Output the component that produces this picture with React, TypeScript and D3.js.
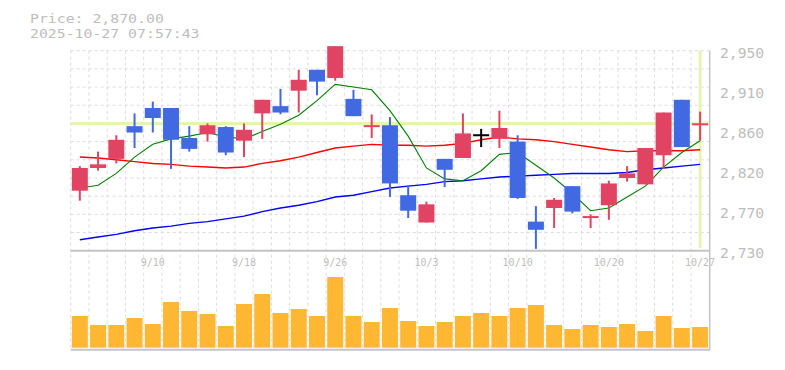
import React from "react";
import * as d3 from "d3";

const dates = ["9/4","9/5","9/8","9/9","9/10","9/11","9/12","9/16","9/17","9/18","9/19","9/22","9/24","9/25","9/26","9/29","9/30","10/1","10/2","10/3","10/6","10/7","10/8","10/9","10/10","10/14","10/15","10/16","10/17","10/20","10/21","10/22","10/23","10/24","10/27"];
const openP = [2796,2821,2831,2867,2887,2887,2854,2858,2866,2851,2881,2889,2906,2929,2920,2897,2866,2868,2791,2761,2831,2832,2857,2853,2850,2762,2777,2801,2766,2780,2810,2803,2835,2896,2868];
const highP = [2823,2839,2857,2881,2894,2887,2867,2870,2867,2870,2896,2908,2929,2929,2955,2907,2880,2877,2802,2784,2831,2881,2864,2884,2857,2779,2788,2801,2770,2807,2823,2843,2882,2896,2883];
const lowP = [2785,2818,2826,2843,2860,2820,2839,2850,2835,2833,2853,2880,2882,2901,2917,2878,2854,2789,2766,2761,2800,2832,2844,2843,2787,2732,2755,2771,2755,2764,2806,2803,2820,2844,2851];
const closeP = [2821,2825,2852,2860,2876,2852,2842,2868,2838,2863,2896,2882,2918,2916,2955,2878,2868,2804,2774,2781,2819,2859,2857,2865,2788,2753,2786,2773,2768,2804,2815,2843,2882,2844,2870];
const ma5 = [2799,2802,2815,2833,2847,2853,2856,2860,2855,2853,2861,2869,2879,2895,2913,2910,2907,2884,2856,2821,2809,2807,2818,2836,2838,2824,2810,2793,2774,2777,2789,2801,2822,2838,2851];
const ma25 = [2833,2832,2830,2828,2826,2825,2823,2822,2821,2822,2826,2829,2833,2838,2843,2845,2847,2846,2846,2845,2846,2848,2852,2855,2853,2852,2850,2847,2844,2841,2839,2840,2840,2840,2841];
const ma75 = [2742,2745,2748,2752,2755,2757,2760,2762,2765,2768,2773,2777,2780,2784,2789,2791,2795,2799,2801,2803,2806,2807,2809,2811,2812,2813,2814,2815,2815,2815,2816,2819,2821,2823,2825];
const volume = [317,227,227,297,237,457,367,337,217,437,537,347,387,317,707,317,257,397,267,217,257,317,347,317,397,427,227,187,227,207,237,167,317,197,207];
const xTickLabels = ["9/10","9/18","9/26","10/3","10/10","10/20","10/27"];
const yTickValues = [2730,2774,2818,2862,2906,2950];
const yTickLabels = ["2,730","2,770","2,820","2,860","2,910","2,950"];
const gridValues = [2730,2750,2770,2790,2810,2830,2850,2870,2890,2910,2930,2950];
const currentPrice = 2870;
const titleLines = ["Price: 2,870.00", "2025-10-27 07:57:43"];

const FONT = "'DejaVu Sans Mono', 'Liberation Mono', monospace";
const TEXT = "#bdbdbd";

export default function App() {
  const left = 70.7, right = 709.2;
  const pTop = 50.7, pBot = 250.7, vBot = 349.7;
  const x = d3.scaleBand<string>().domain(dates).range([left, right]).padding(0);
  const bw = x.bandwidth();
  const cx = (d: string) => (x(d) as number) + bw / 2;
  const y = d3.scaleLinear().domain([2730, 2950]).range([pBot, pTop]);
  const yv = d3.scaleLinear().domain([0, 1000]).range([347.7, 247.7]);
  const body = 16;

  const line = (vals: number[]) =>
    d3.line<number>().x((_, i) => cx(dates[i])).y((v) => y(v))(vals) || "";

  const bounds = d3.range(dates.length + 1).map((i) => left + i * bw);

  return (
    <svg width={785} height={370} style={{ position: "absolute", left: 0, top: 0, background: "#fff" }}>
      {gridValues.slice(1).map((g) => (
        <line key={"hg" + g} x1={left} x2={right} y1={y(g)} y2={y(g)} stroke="#dcdcdc" strokeDasharray="3,3" />
      ))}
      {bounds.slice(0, -1).map((b, i) => (
        <line key={"vg" + i} x1={b} x2={b} y1={pTop} y2={vBot} stroke="#dcdcdc" strokeDasharray="3,3" />
      ))}
      <line x1={left} x2={right} y1={y(currentPrice)} y2={y(currentPrice)} stroke="#e6f5ae" strokeWidth={3} />
      <line x1={cx(dates[dates.length - 1])} x2={cx(dates[dates.length - 1])} y1={pTop} y2={pBot - 2.5} stroke="#e6f5ae" strokeWidth={3} />
      <path d={line(ma75)} fill="none" stroke="#0000ff" strokeWidth={1.4} />
      <path d={line(ma25)} fill="none" stroke="#ff0000" strokeWidth={1.4} />
      <path d={line(ma5)} fill="none" stroke="#008000" strokeWidth={1.1} />
      {dates.map((d, i) => {
        const o = openP[i], c = closeP[i];
        const col = c > o ? "#e04462" : c < o ? "#4169e1" : "#000000";
        const xc = cx(d);
        const yTop = y(Math.max(o, c));
        const yB = y(Math.min(o, c));
        const h = Math.max(yB - yTop, 2);
        const yb = c === o ? y(o) - 1 : yTop - (h - (yB - yTop)) / 2;
        return (
          <g key={"c" + i}>
            <line x1={xc} x2={xc} y1={y(highP[i])} y2={y(lowP[i])} stroke={col} strokeWidth={2} />
            <rect x={xc - body / 2} y={yb} width={body} height={h} fill={col} />
          </g>
        );
      })}
      {dates.map((d, i) => (
        <rect key={"v" + i} x={cx(d) - body / 2} y={yv(volume[i])} width={body} height={yv(0) - yv(volume[i])} fill="#fdb733" />
      ))}
      <line x1={left} x2={right} y1={pBot} y2={pBot} stroke="#c4c4c4" strokeWidth={2} />
      <line x1={left} x2={right + 1} y1={vBot} y2={vBot} stroke="#c4c4c4" strokeWidth={2} />
      <line x1={right + 0.5} x2={right + 0.5} y1={pTop} y2={vBot} stroke="#c4c4c4" strokeWidth={1.5} />
      {xTickLabels.map((t) => (
        <text key={"xt" + t} x={cx(t)} y={266} textAnchor="middle" fontFamily={FONT} fontSize={10} fill={TEXT}>{t}</text>
      ))}
      {yTickValues.map((v, i) => (
        <text key={"yt" + v} x={720} y={y(v) + 2} dy="0.35em" fontFamily={FONT} fontSize={14.7} fill={TEXT}>{yTickLabels[i]}</text>
      ))}
      {titleLines.map((t, i) => (
        <text key={"tl" + i} x={30} y={23 + i * 15} fontFamily={FONT} fontSize={12.6}
          textLength={t.length * 8.92} lengthAdjust="spacingAndGlyphs" fill={TEXT}>{t}</text>
      ))}
    </svg>
  );
}
